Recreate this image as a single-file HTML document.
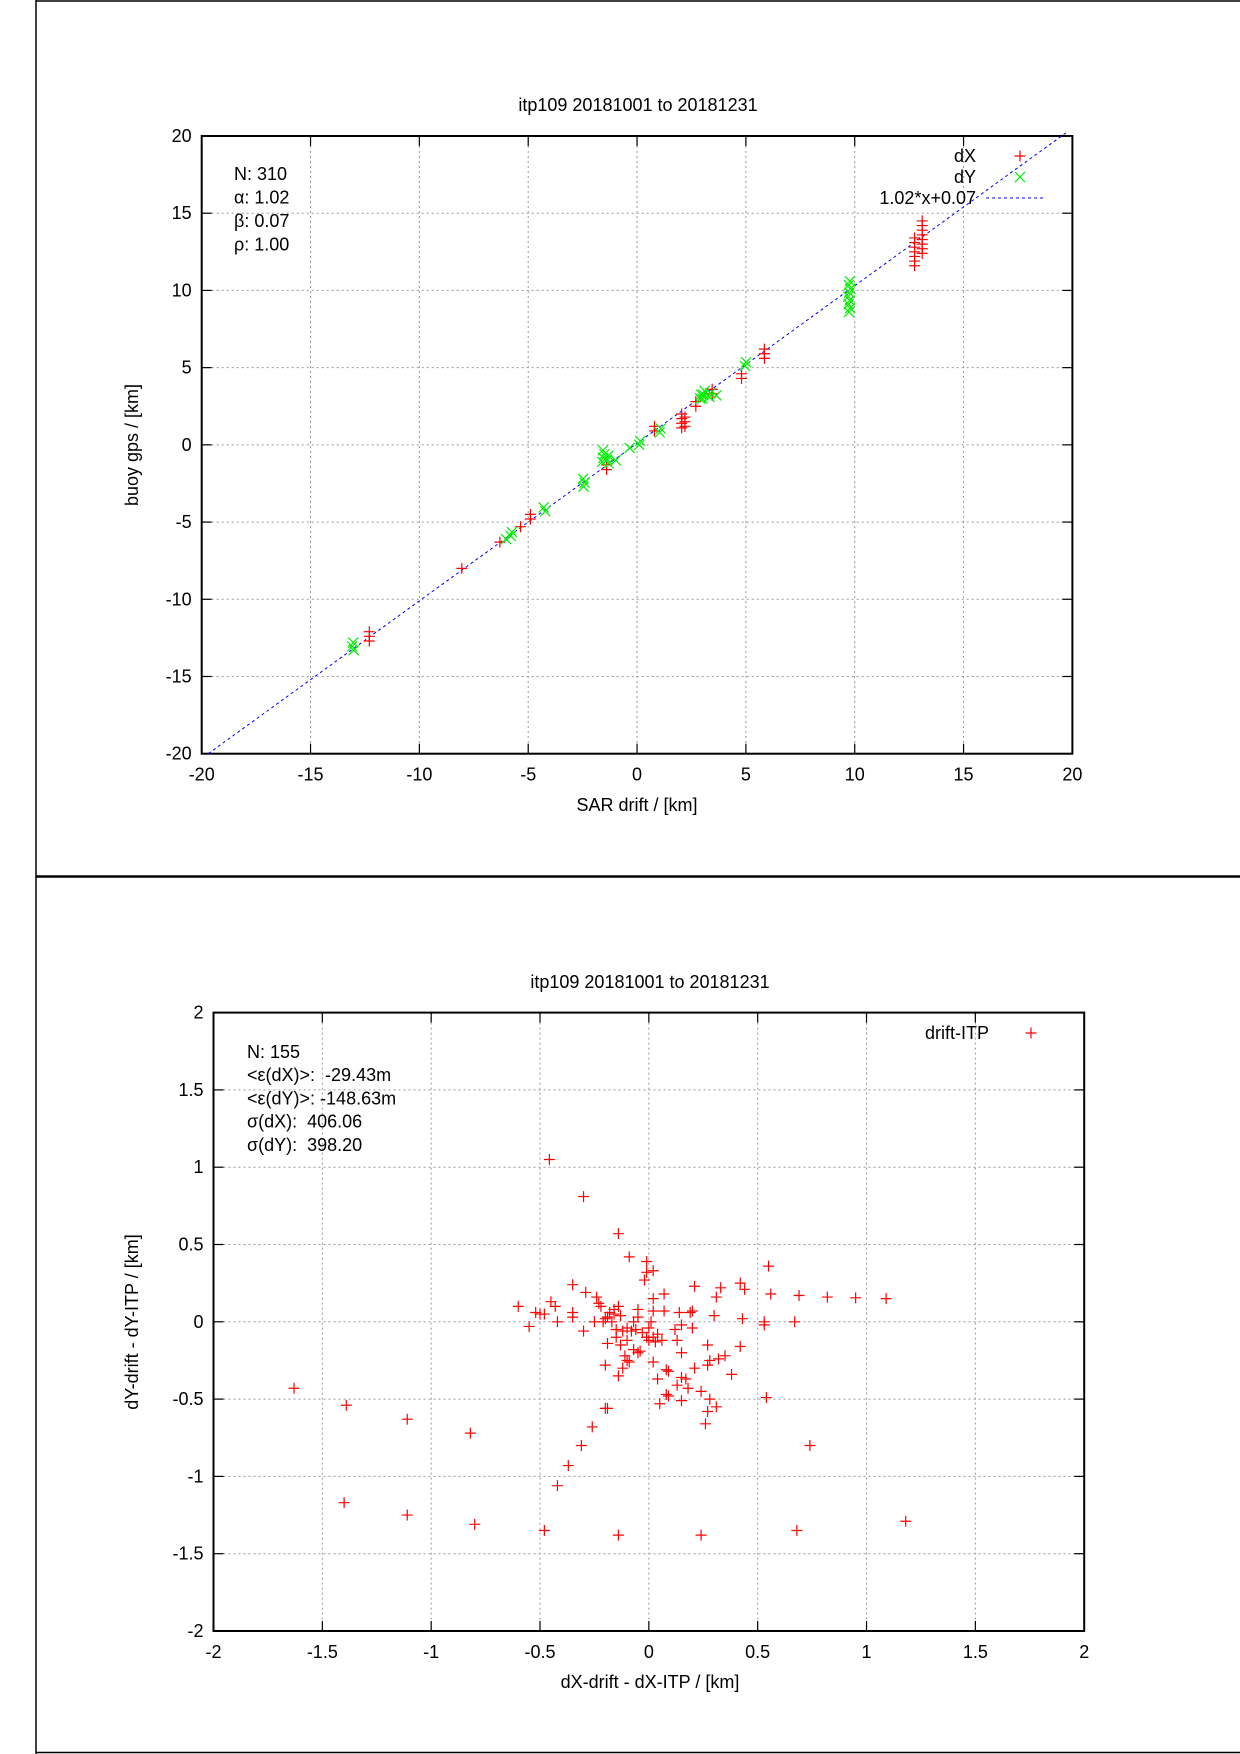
<!DOCTYPE html>
<html><head><meta charset="utf-8"><style>
html,body{margin:0;padding:0;background:#fff}
svg{display:block}
text{font-family:"Liberation Sans",sans-serif;font-size:18px;fill:#000;white-space:pre}
</style></head><body>
<svg id="s" width="1240" height="1754" xmlns="http://www.w3.org/2000/svg">
<rect width="1240" height="1754" fill="#fff"/>
<line x1="36" y1="0" x2="36" y2="1754" stroke="#000" stroke-width="1.5"/>
<line x1="36" y1="1" x2="1240" y2="1" stroke="#000" stroke-width="1.5"/>
<line x1="36" y1="876.5" x2="1240" y2="876.5" stroke="#000" stroke-width="2.5"/>
<line x1="36" y1="1752.5" x2="1240" y2="1752.5" stroke="#000" stroke-width="1.5"/>
<g id="g1"></g><g id="g2"></g>
</svg>
<script>
var NS="http://www.w3.org/2000/svg";
function el(p,t,a,txt){var e=document.createElementNS(NS,t);for(var k in a)e.setAttribute(k,a[k]);if(txt!=null)e.textContent=txt;p.appendChild(e);return e;}
function plot(g,L,R,T,B,xmin,xmax,ymin,ymax,step,fmt){
 var X=function(v){return L+(v-xmin)/(xmax-xmin)*(R-L)},Y=function(v){return B-(v-ymin)/(ymax-ymin)*(B-T)};
 for(var v=xmin;v<=xmax+1e-9;v+=step){
  var x=X(v),y=Y(v);
  if(v>xmin+1e-9&&v<xmax-1e-9){
   el(g,'line',{x1:x,y1:T,x2:x,y2:B,stroke:'#999','stroke-width':1,'stroke-dasharray':'2,3'});
   el(g,'line',{x1:L,y1:y,x2:R,y2:y,stroke:'#999','stroke-width':1,'stroke-dasharray':'2,3'});
  }
  el(g,'line',{x1:x,y1:T,x2:x,y2:T+10,stroke:'#000','stroke-width':1.2});
  el(g,'line',{x1:x,y1:B,x2:x,y2:B-10,stroke:'#000','stroke-width':1.2});
  el(g,'line',{x1:L,y1:y,x2:L+10,y2:y,stroke:'#000','stroke-width':1.2});
  el(g,'line',{x1:R,y1:y,x2:R-10,y2:y,stroke:'#000','stroke-width':1.2});
  el(g,'text',{x:x,y:B+27,'text-anchor':'middle'},fmt(v));
  el(g,'text',{x:L-10,y:y+6,'text-anchor':'end'},fmt(v));
 }
 el(g,'rect',{x:L,y:T,width:R-L,height:B-T,fill:'none',stroke:'#000','stroke-width':2});
 return [X,Y];
}
function plus(g,x,y){el(g,'path',{d:'M'+(x-5.5)+' '+y+'h11M'+x+' '+(y-5.5)+'v11',stroke:'#f00','stroke-width':1.2,fill:'none'});}
function cross(g,x,y){el(g,'path',{d:'M'+(x-5)+' '+(y-5)+'l10 10M'+(x+5)+' '+(y-5)+'l-10 10',stroke:'#0e0','stroke-width':1.2,fill:'none'});}
// plot 1
var g1=document.getElementById('g1');
var s1=plot(g1,201.7,1072.4,136,753.7,-20,20,-20,20,5,function(v){return String(Math.round(v))});
var X=s1[0],Y=s1[1];
el(g1,'text',{x:638,y:111,'text-anchor':'middle'},'itp109 20181001 to 20181231');
el(g1,'text',{x:637,y:811,'text-anchor':'middle'},'SAR drift / [km]');
el(g1,'text',{x:0,y:0,'text-anchor':'middle',transform:'translate(138,445) rotate(-90)'},'buoy gps / [km]');
['N: 310','\u03b1: 1.02','\u03b2: 0.07','\u03c1: 1.00'].forEach(function(t,i){el(g1,'text',{x:234,y:180+i*23.5},t)});
el(g1,'line',{x1:X(-19.7),y1:Y(-20),x2:X(19.7),y2:Y(20.2),stroke:'#00f','stroke-width':1,'stroke-dasharray':'3,3'});
el(g1,'text',{x:976,y:162,'text-anchor':'end'},'dX');plus(g1,1020,156);
el(g1,'text',{x:976,y:183,'text-anchor':'end'},'dY');cross(g1,1020,177);
el(g1,'text',{x:976,y:204,'text-anchor':'end'},'1.02*x+0.07');
el(g1,'line',{x1:986,y1:198,x2:1044,y2:198,stroke:'#00f','stroke-width':1,'stroke-dasharray':'3,3'});
var red=[[-12.2,-12.7,-12.0],[-8,-8,-7.8],[-6.3,-6.3,-6.1],[-5.3,-5.3,-5.1],[-4.9,-4.8,-4.5],[-1.3,-1.6,-1.2],[0.8,0.9,1.2],[2.0,1.1,2.1],[2.2,1.2,1.9],[2.6,2.5,2.8],[3.3,3.3,3.8],[4.7,4.3,4.7],[5.8,5.6,6.4],[12.7,11.6,13.4],[13.0,12.4,14.7]];
var grn=[[-13,-13.3,-12.6],[-6,-6.1,-5.9],[-5.7,-5.9,-5.5],[-4.2,-4.3,-3.9],[-2.4,-2.7,-2.0],[-1.5,-1.1,-0.3],[-1.3,-1.2,-0.5],[-0.9,-1.0,-0.8],[-0.3,-0.2,0],[0.1,0,0.3],[1.0,0.8,1.2],[3.0,3.0,3.7],[3.3,3.1,3.5],[3.6,3.2,3.4],[2.9,3.0,3.4],[4.9,5.1,5.5],[9.7,8.6,10.6]];
red.forEach(function(c){for(var v=c[1];v<=c[2]+1e-6;v+=0.3)plus(g1,X(c[0]+((v*7)%0.15)),Y(v));});
grn.forEach(function(c){for(var v=c[1];v<=c[2]+1e-6;v+=0.25)cross(g1,X(c[0]+((v*5)%0.12)),Y(v));});
// plot 2
var g2=document.getElementById('g2');
var s2=plot(g2,213.5,1084.2,1012.6,1631,-2,2,-2,2,0.5,function(v){var r=Math.round(v*10)/10;return String(r)});
var X2=s2[0],Y2=s2[1];
el(g2,'text',{x:650,y:988,'text-anchor':'middle'},'itp109 20181001 to 20181231');
el(g2,'text',{x:650,y:1688,'text-anchor':'middle'},'dX-drift - dX-ITP / [km]');
el(g2,'text',{x:0,y:0,'text-anchor':'middle',transform:'translate(138,1322) rotate(-90)'},'dY-drift - dY-ITP / [km]');
['N: 155','<\u03b5(dX)>:  -29.43m','<\u03b5(dY)>: -148.63m','\u03c3(dX):  406.06','\u03c3(dY):  398.20'].forEach(function(t,i){el(g2,'text',{x:247,y:1058+i*23.2},t)});
el(g2,'text',{x:989,y:1039,'text-anchor':'end'},'drift-ITP');plus(g2,1031,1033);
var P=[[-1.63,-0.43],[-1.39,-0.54],[-1.11,-0.63],[-0.82,-0.72],[-1.40,-1.17],[-1.11,-1.25],[-0.80,-1.31],[-0.48,-1.35],[-0.14,-1.38],[0.24,-1.38],[0.68,-1.35],[1.18,-1.29],[0.74,-0.80],[0.54,-0.49],[-0.42,-1.06],[-0.37,-0.93],[-0.31,-0.80],[-0.26,-0.68],[-0.20,-0.56],[-0.19,-0.56],
[-0.457,1.05],[-0.30,0.81],[-0.14,0.57],[-0.09,0.42],[-0.01,0.39],[-0.01,0.32],[0.02,0.33],[-0.02,0.27],[-0.35,0.24],[-0.29,0.19],
[0.55,0.36],[0.56,0.18],[0.69,0.17],[0.82,0.16],[0.95,0.155],[1.09,0.15],[0.67,0.0],[0.53,0.0],[0.53,-0.02],[0.42,0.25],[0.44,0.21],[0.43,0.02],[0.42,-0.16],[0.38,-0.34],[0.35,-0.22],[0.32,-0.24],[0.31,0.16],[0.33,0.22],[0.30,0.04],[0.27,-0.15],[0.28,-0.25],[0.27,-0.28],[0.28,-0.50],[0.31,-0.55],[0.27,-0.58],[0.26,-0.66],[0.24,-0.45],[0.21,-0.30],[0.18,-0.43],[0.17,-0.37],[0.15,-0.36],[0.13,-0.41],[0.15,-0.51],[0.09,-0.48],[0.08,-0.47],[0.05,-0.53],[0.04,-0.37],[0.08,-0.31],[0.09,-0.32],[0.15,-0.20],[0.15,-0.02],[0.2,-0.04],[0.19,0.06],[0.2,0.07],[0.14,0.06],[0.07,0.18],[0.07,0.07],[0.06,-0.12],[0.02,-0.26],[0.03,-0.13],[0.02,-0.1],[0.04,-0.08],[0.02,0.07],[0.02,0.15],[0.21,0.23],[0.13,-0.12],[0.12,-0.05],[0.0,-0.12],[-0.01,-0.1],[-0.03,-0.07],[-0.04,-0.19],[-0.05,-0.2],[-0.06,-0.05],[-0.05,0.03],[-0.05,0.08],[-0.07,0.0],[-0.08,-0.06],[-0.09,-0.26],[-0.1,-0.25],[-0.11,-0.22],[-0.12,-0.3],[-0.14,-0.35],[-0.15,-0.1],[-0.15,-0.05],[-0.16,0.05],[-0.16,0.08],[-0.14,0.1],[-0.13,0.04],[-0.18,0.06],[-0.19,0.03],[-0.19,-0.14],[-0.2,-0.28],[-0.21,0.0],[-0.2,0.02],[-0.22,0.1],[-0.23,0.12],[-0.24,0.16],[-0.25,0.0],[-0.3,-0.06],[-0.35,0.06],[-0.35,0.03],[-0.42,0.0],[-0.43,0.1],[-0.45,0.13],[-0.48,0.05],[-0.5,0.05],[-0.52,0.06],[-0.55,-0.03],[-0.6,0.1],[-0.12,-0.06],[-0.1,-0.04],[-0.07,-0.18],[0.0,-0.04],[0.01,0.0],[-0.13,-0.15],[-0.1,-0.12],[-0.17,0.0]];
P.forEach(function(p){plus(g2,X2(p[0]),Y2(p[1]))});
</script>
</body></html>
